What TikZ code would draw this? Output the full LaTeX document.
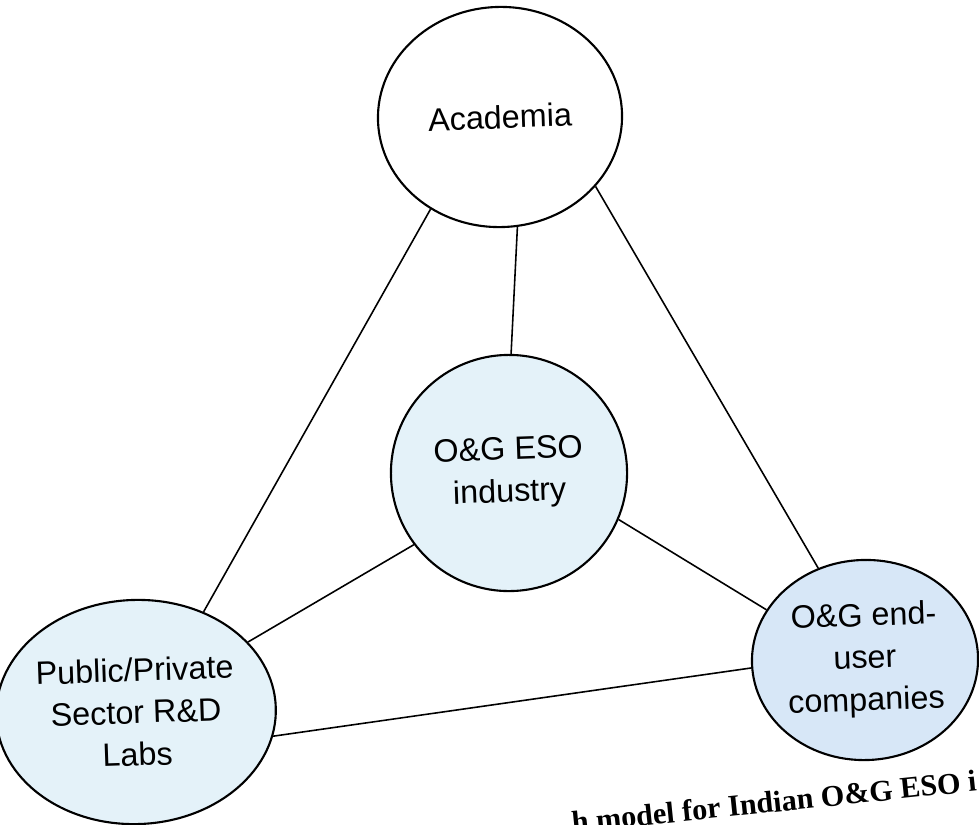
\documentclass[tikz,border=0pt]{standalone}
\usepackage{fontspec}
\setmainfont{Liberation Sans}
\newfontfamily\capfont{Liberation Serif}
\usetikzlibrary{shapes.geometric}
\definecolor{labfill}{HTML}{E4F2F9}
\definecolor{usrfill}{HTML}{D7E7F7}
\begin{document}
\begin{tikzpicture}[x=0.01cm,y=-0.01cm,
    blob/.style={ellipse,draw,line width=0.6pt,align=center,inner sep=0pt,
        font=\fontsize{9.2}{12}\selectfont,rotate=2},
    link/.style={line width=0.45pt}]
    \useasboundingbox (0,0) rectangle (979,824);
    \node[blob,minimum width=2.44cm,minimum height=2.2cm] (aca) at (500,117) {Academia};
    \node[blob,fill=labfill,minimum width=2.36cm,minimum height=2.36cm] (eso) at (509,473)
    {
        O\&G ESO\\ industry
    };
    \node[blob,fill=labfill,minimum width=2.56cm,minimum height=2.24cm] (lab) at (136,712)
    {
        Public/Private\\ Sector R\&D\\ Labs
    };
    \node[blob,fill=usrfill,minimum width=2.26cm,minimum height=2.0cm] (usr) at (865,660)
    {
        O\&G end-\\ user\\ companies
    };
    \draw[link](aca.231)--(lab.54);
    \draw[link](aca.277)--(eso.87);
    \draw[link](aca.322)--(usr.115);
    \draw[link](eso.215)--(lab.30);
    \draw[link](eso.335)--(usr.151);
    \draw[link](lab.348)--(usr.182);
    % caption running off the page
    \node[anchor=base east,rotate=5.9,inner sep=0pt,font=\capfont\bfseries\fontsize{8.6}{10}\selectfont]
        (cap) at (978,791) {h model for Indian O\&G ESO i};
\end{tikzpicture}
\end{document}
